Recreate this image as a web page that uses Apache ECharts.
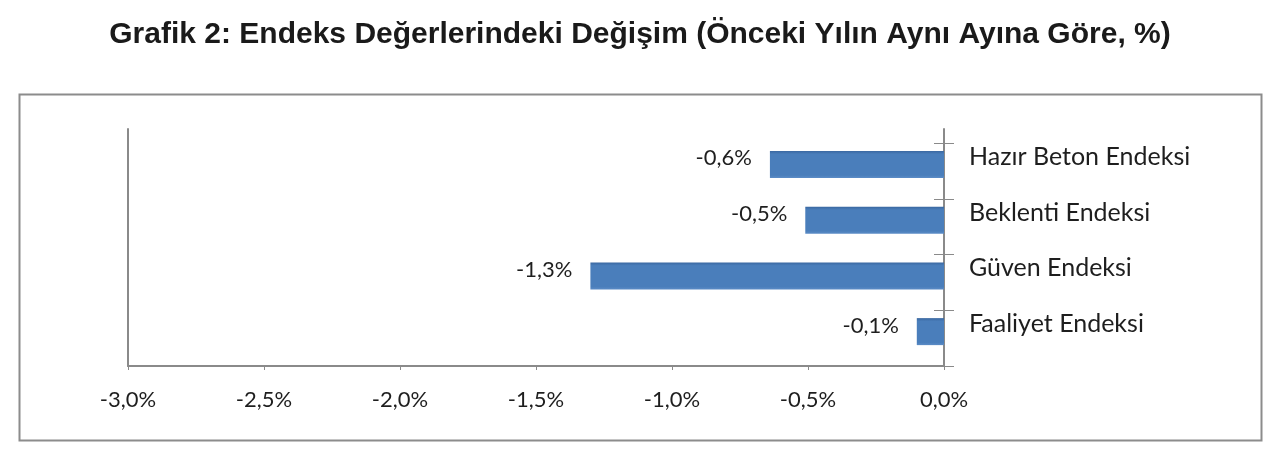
<!DOCTYPE html>
<html>
<head>
<meta charset="utf-8">
<script src="https://cdn.jsdelivr.net/npm/echarts@6/dist/echarts.min.js"></script>
<style>
html,body{margin:0;padding:0;background:#fff;}
#c{width:1280px;height:456px;}
</style>
</head>
<body>
<div id="c"></div>
<script>
const titleText = 'Grafik 2: Endeks Değerlerindeki Değişim (Önceki Yılın Aynı Ayına Göre, %)';
const categories = ['Hazır Beton Endeksi', 'Beklenti Endeksi', 'Güven Endeksi', 'Faaliyet Endeksi'];
const values = [-0.64, -0.51, -1.30, -0.10];
const xMin = -3.0, xMax = 0.0, xStep = 0.5;

const fmtPct = v => v.toFixed(1).replace('.', ',') + '%';
const axisGray = '#8a8a8a';
const txt = '#1e1e1e';
const font = 'Lato';

const chart = echarts.init(document.getElementById('c'), null, {renderer: 'canvas'});
chart.setOption({
  animation: false,
  backgroundColor: '#fff',
  title: {
    text: titleText, left: 'center', top: 15,
    textStyle: {fontFamily: 'Liberation Sans', fontWeight: 'bold', fontSize: 30, color: '#1a1a1a'}
  },
  graphic: [{
    type: 'rect', left: 17, top: 92, shape: {width: 1242, height: 346},
    style: {fill: 'none', stroke: '#8c8c8c', lineWidth: 2}, z: 0
  }],
  grid: [
    {left: 128, right: 336, top: 143, bottom: 90},
    {left: 128, right: 336, top: 136.5, bottom: 96.5},
    {left: 128, right: 336, top: 129, bottom: 90}
  ],
  xAxis: [
    {gridIndex: 0, type: 'value', min: xMin, max: xMax, interval: xStep,
     axisLine: {show: true, onZero: false, lineStyle: {color: axisGray, width: 2}},
     axisTick: {show: true, length: 4, lineStyle: {color: axisGray}},
     splitLine: {show: false},
     axisLabel: {margin: 23, fontFamily: font, fontSize: 22, color: txt, formatter: fmtPct}},
    {gridIndex: 1, type: 'value', min: xMin, max: xMax, interval: xStep, show: false},
    {gridIndex: 2, type: 'value', min: xMin, max: xMax, interval: xStep, show: false}
  ],
  yAxis: [
    {gridIndex: 0, type: 'category', data: categories, inverse: true, position: 'right',
     axisLine: {show: true, onZero: false, lineStyle: {color: axisGray, width: 2}},
     axisTick: {show: true, inside: false, length: 10, lineStyle: {color: axisGray}},
     axisLabel: {show: false}, splitLine: {show: false}},
    {gridIndex: 0, type: 'category', data: categories, inverse: true, position: 'right',
     axisLine: {show: false},
     axisTick: {show: true, inside: true, length: 10, lineStyle: {color: axisGray}},
     axisLabel: {show: false}, splitLine: {show: false}},
    {gridIndex: 1, type: 'category', data: categories, inverse: true, position: 'right',
     axisLine: {show: false}, axisTick: {show: false}, splitLine: {show: false},
     axisLabel: {show: true, margin: 25, fontFamily: font, fontSize: 25, color: txt,
                 lineHeight: 15, verticalAlign: 'bottom'}},
    {gridIndex: 2, type: 'value', min: 0, max: 1, position: 'left',
     axisLine: {show: true, onZero: false, lineStyle: {color: axisGray, width: 2}},
     axisTick: {show: false}, axisLabel: {show: false}, splitLine: {show: false}},
    {gridIndex: 2, type: 'value', min: 0, max: 1, position: 'right',
     axisLine: {show: true, onZero: false, lineStyle: {color: axisGray, width: 2}},
     axisTick: {show: false}, axisLabel: {show: false}, splitLine: {show: false}}
  ],
  series: [{
    type: 'bar', xAxisIndex: 1, yAxisIndex: 2, data: values, barWidth: 27,
    itemStyle: {
      color: new echarts.graphic.LinearGradient(0, 0, 0, 1, [
        {offset: 0, color: '#3A67A0'}, {offset: 0.12, color: '#4A7EBB'},
        {offset: 0.9, color: '#4A7EBB'}, {offset: 1, color: '#5C8CC6'}
      ])
    },
    label: {
      show: true, position: 'left', distance: 18, offset: [0, -6],
      fontFamily: font, fontSize: 22, color: txt,
      formatter: p => fmtPct(p.value)
    }
  }]
});
</script>
</body>
</html>
